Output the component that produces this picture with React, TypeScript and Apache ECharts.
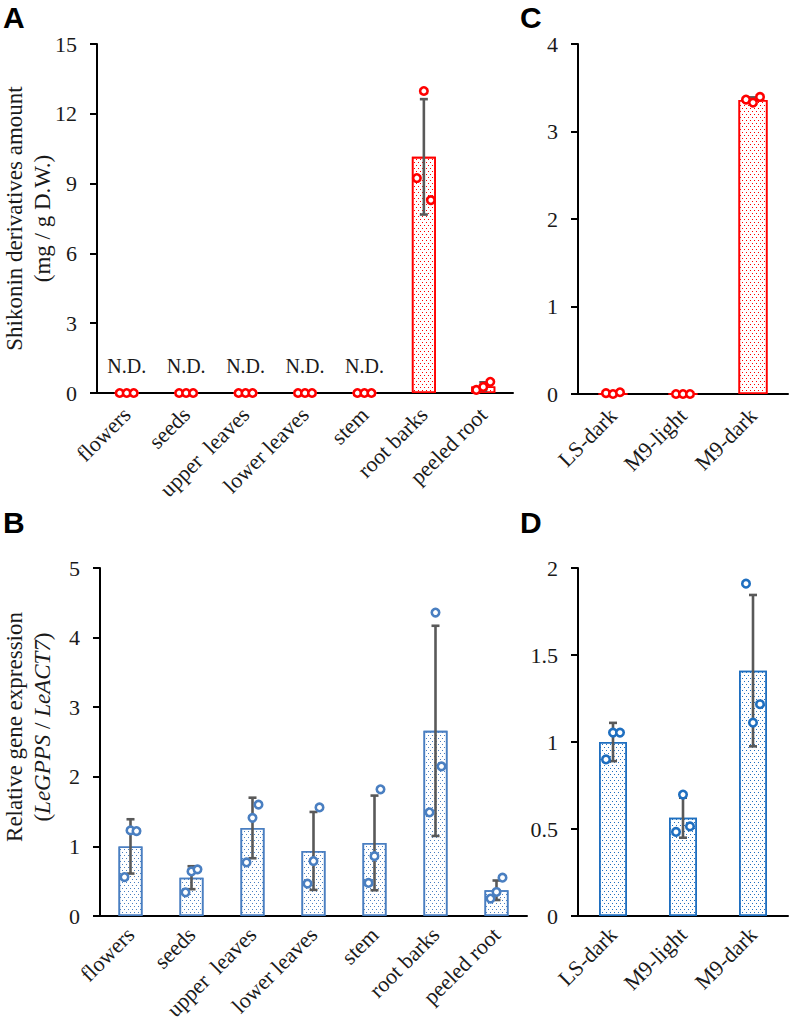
import React, { useEffect, useRef } from "react";
import * as echarts from "echarts";

// ---------- Data ----------
const tissueCats = ["flowers", "seeds", "upper  leaves", "lower leaves", "stem", "root barks", "peeled root"];
const cultureCats = ["LS-dark", "M9-light", "M9-dark"];

// Panel A: Shikonin derivatives amount (mg / g D.W.)
const aMean = [0, 0, 0, 0, 0, 10.15, 0.28];
const aSd = [0, 0, 0, 0, 0, 2.48, 0.18];
const aLeft = [0, 0, 0, 0, 0, 9.24, 0.13];
const aCenter = [0, 0, 0, 0, 0, 12.98, 0.26];
const aRight = [0, 0, 0, 0, 0, 8.29, 0.48];
const aNdLabels = ["N.D.", "N.D.", "N.D.", "N.D.", "N.D.", "", ""];
const aTicks = { min: 0, max: 15, interval: 3 };

// Panel B: Relative gene expression (LeGPPS / LeACT7)
const bMean = [1.0, 0.55, 1.265, 0.935, 1.05, 2.66, 0.37];
const bSd = [0.39, 0.165, 0.435, 0.56, 0.68, 1.51, 0.14];
const bLeft = [0.56, 0.34, 0.77, 0.465, 0.475, 1.49, 0.25];
const bCenter = [1.23, 0.64, 1.41, 0.79, 0.86, 4.36, 0.345];
const bRight = [1.22, 0.67, 1.6, 1.56, 1.82, 2.15, 0.55];
const bTicks = { min: 0, max: 5, interval: 1 };

// Panel C: Shikonin derivatives in cultures
const cMean = [0, 0, 3.36];
const cSd = [0, 0, 0.03];
const cLeft = [0.01, 0, 3.365];
const cCenter = [0, 0, 3.33];
const cRight = [0.02, 0, 3.395];
const cTicks = { min: 0, max: 4, interval: 1 };

// Panel D: Relative gene expression in cultures
const dMean = [1.0, 0.565, 1.41];
const dSd = [0.11, 0.115, 0.435];
const dLeft = [0.9, 0.483, 1.91];
const dCenter = [1.054, 0.698, 1.111];
const dRight = [1.054, 0.515, 1.217];
const dTicks = { min: 0, max: 2, interval: 0.5 };

// ---------- Styles ----------
const SERIF = "Liberation Serif";
const SANS = "Liberation Sans";
const RED = "#ff0000";
const BLUE_B = "#4a7fc1";
const BLUE_D = "#1f6fc0";
const ERR = "#595959";
const TXT = "#1a1a1a";

function errData(mean: number[], sd: number[]) {
  const out: any[] = [];
  mean.forEach((m, i) => {
    if (sd[i] > 0) out.push([i, m - sd[i], m + sd[i]]);
  });
  return out;
}

function errSeries(idx: number, mean: number[], sd: number[]) {
  return {
    type: "custom",
    xAxisIndex: idx,
    yAxisIndex: idx,
    z: 3,
    encode: { x: 0, y: [1, 2] },
    data: errData(mean, sd),
    renderItem: (params: any, api: any) => {
      const x = api.value(0);
      const lo = api.coord([x, api.value(1)]);
      const hi = api.coord([x, api.value(2)]);
      const half = 4;
      const style = { stroke: ERR, lineWidth: 2.6 };
      return {
        type: "group",
        children: [
          { type: "line", shape: { x1: hi[0], y1: hi[1], x2: lo[0], y2: lo[1] }, style },
          { type: "line", shape: { x1: hi[0] - half, y1: hi[1], x2: hi[0] + half, y2: hi[1] }, style },
          { type: "line", shape: { x1: lo[0] - half, y1: lo[1], x2: lo[0] + half, y2: lo[1] }, style },
        ],
      };
    },
  };
}

function pointSeries(idx: number, data: number[], color: string, offset: number) {
  return {
    type: "scatter",
    xAxisIndex: idx,
    yAxisIndex: idx,
    z: 4,
    symbol: "circle",
    symbolSize: 7.5,
    symbolOffset: [offset, 0],
    itemStyle: { color: "#ffffff", borderColor: color, borderWidth: 2.6, opacity: 1 },
    data,
  };
}

function barSeries(idx: number, data: number[], color: string, width: number, extra: any = {}) {
  return {
    type: "bar",
    xAxisIndex: idx,
    yAxisIndex: idx,
    z: 2,
    barWidth: width,
    itemStyle: {
      color: "#ffffff",
      borderColor: color,
      borderWidth: 1.6,
      decal: {
        symbol: "rect",
        symbolSize: 1,
        color: color,
        dashArrayX: [
          [1, 3],
          [0, 2, 1, 1],
        ],
        dashArrayY: [1, 1.2],
        rotation: 0,
      },
    },
    data,
    ...extra,
  };
}

function xAxis(idx: number, cats: string[], margin: number) {
  return {
    type: "category",
    gridIndex: idx,
    data: cats,
    axisLine: { lineStyle: { color: "#000", width: 2 } },
    axisTick: { show: false },
    axisLabel: {
      interval: 0,
      rotate: 45,
      margin,
      color: TXT,
      fontFamily: SERIF,
      fontSize: 22,
      hideOverlap: false,
    },
  };
}

function yAxis(idx: number, ticks: { min: number; max: number; interval: number }, name: string, gap: number, extraName: any = {}) {
  return {
    type: "value",
    gridIndex: idx,
    min: ticks.min,
    max: ticks.max,
    interval: ticks.interval,
    name,
    nameLocation: "middle",
    nameGap: gap,
    nameMoveOverlap: false,
    nameTextStyle: {
      fontFamily: SERIF,
      fontSize: 23,
      lineHeight: 28,
      color: TXT,
      align: "center",
      ...extraName,
    },
    axisLine: { show: true, lineStyle: { color: "#000", width: 2 } },
    axisTick: { show: true, length: 7, lineStyle: { color: "#000", width: 2 } },
    splitLine: { show: false },
    axisLabel: { margin: 20, color: TXT, fontFamily: SERIF, fontSize: 22 },
  };
}

function panelLetter(text: string, x: number, y: number) {
  return {
    type: "text",
    left: x,
    top: y,
    style: { text, fontFamily: SANS, fontWeight: "bold", fontSize: 30, fill: "#000" },
  };
}

function grid(left: number, right: number, top: number, bottom: number) {
  return { left, right, top, bottom, containLabel: false, outerBoundsMode: "none" };
}

export default function App() {
  const ref = useRef<HTMLDivElement>(null);
  useEffect(() => {
    document.body.style.margin = "0";
    if (!ref.current) return;
    const chart = echarts.init(ref.current, null, { renderer: "svg" });
    const option: any = {
      animation: false,
      backgroundColor: "#ffffff",
      grid: [grid(97, 276, 44, 629), grid(100, 262, 568, 106), grid(578, 1, 44, 628), grid(578, 1, 568, 106)],
      xAxis: [
        xAxis(0, tissueCats, 18),
        xAxis(1, tissueCats, 15),
        xAxis(2, cultureCats, 18),
        xAxis(3, cultureCats, 15),
      ],
      yAxis: [
        yAxis(0, aTicks, "Shikonin derivatives amount\n(mg / g D.W.)", 41),
        yAxis(1, bTicks, "Relative gene expression\n({i|LeGPPS} / {i|LeACT7})", 44, {
          padding: [0, 0, 0, 30],
          rich: { i: { fontStyle: "italic", fontFamily: SERIF, fontSize: 23, lineHeight: 28, color: TXT } },
        }),
        yAxis(2, cTicks, "", 40),
        yAxis(3, dTicks, "", 40),
      ],
      graphic: [
        panelLetter("A", 3, 2),
        panelLetter("C", 520, 2),
        panelLetter("B", 3, 507),
        panelLetter("D", 520, 507),
      ],
      series: [
        barSeries(0, aMean, RED, 24, {
          label: {
            show: true,
            position: "top",
            distance: 16,
            fontFamily: SERIF,
            fontSize: 20,
            color: TXT,
            formatter: (p: any) => aNdLabels[p.dataIndex],
          },
        }),
        errSeries(0, aMean, aSd),
        pointSeries(0, aLeft, RED, -7),
        pointSeries(0, aCenter, RED, 0),
        pointSeries(0, aRight, RED, 7),

        barSeries(1, bMean, BLUE_B, 24),
        errSeries(1, bMean, bSd),
        pointSeries(1, bLeft, BLUE_B, -6),
        pointSeries(1, bCenter, BLUE_B, 0),
        pointSeries(1, bRight, BLUE_B, 6),

        barSeries(2, cMean, RED, 29),
        errSeries(2, cMean, cSd),
        pointSeries(2, cLeft, RED, -7),
        pointSeries(2, cCenter, RED, 0),
        pointSeries(2, cRight, RED, 7),

        barSeries(3, dMean, BLUE_D, 28),
        errSeries(3, dMean, dSd),
        pointSeries(3, dLeft, BLUE_D, -7),
        pointSeries(3, dCenter, BLUE_D, 0),
        pointSeries(3, dRight, BLUE_D, 7),
      ],
    };
    chart.setOption(option);
    return () => chart.dispose();
  }, []);
  return <div ref={ref} style={{ width: 789, height: 1022 }} />;
}
